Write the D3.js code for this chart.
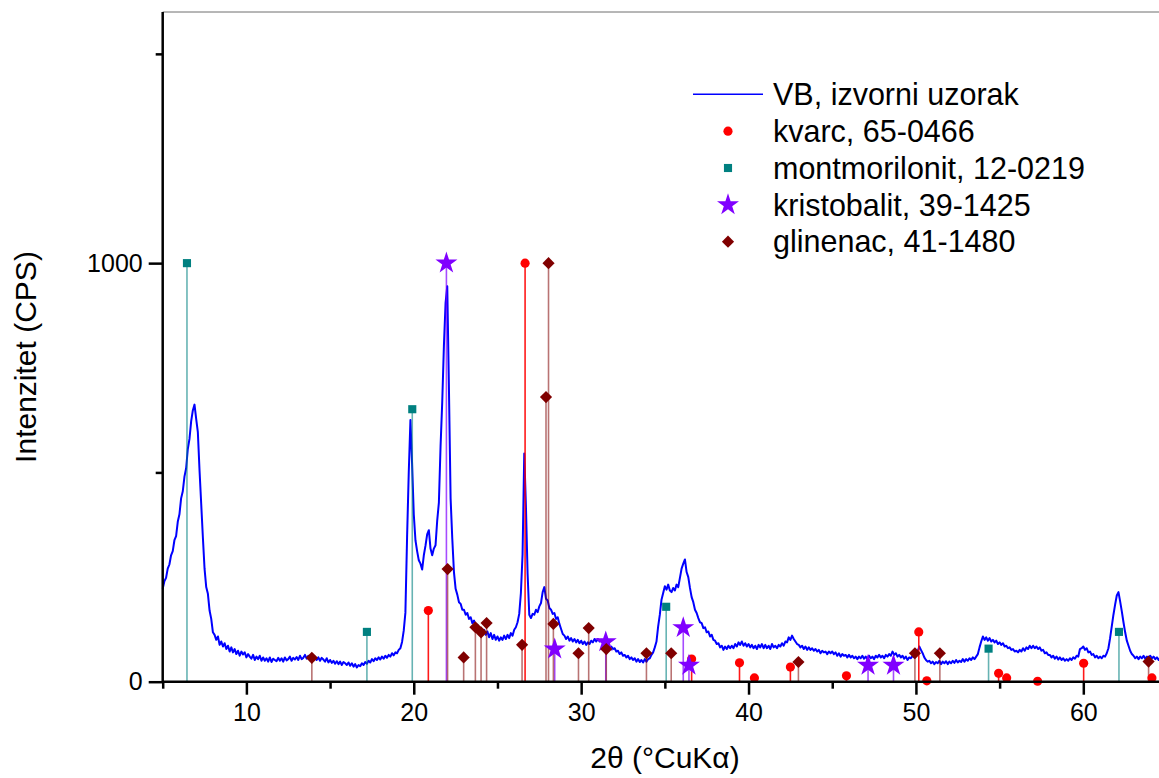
<!DOCTYPE html>
<html>
<head>
<meta charset="utf-8">
<script src="https://cdn.jsdelivr.net/npm/d3@7"></script>
<style>
  body { margin: 0; background: #fff; }
  text { font-family: "Liberation Sans", Arial, sans-serif; fill: #000; }
</style>
</head>
<body>
<svg id="chart" width="1159" height="778"></svg>
<script>
// measured scan, CPS, 2theta from 5 to 65 in 0.1 deg steps
const scanStart = 5, scanStep = 0.1;
const counts = [
  222, 240, 248, 270, 280, 302, 312, 338, 348, 382,
  400, 438, 455, 490, 510, 556, 580, 622, 648, 662,
  628, 596, 505, 425, 345, 270, 226, 210, 170, 150,
  118, 112, 100, 108, 88, 96, 84, 92, 78, 86,
  72, 82, 70, 78, 66, 74, 62, 72, 65, 70,
  58, 66, 60, 55, 64, 52, 60, 54, 62, 50,
  58, 50, 56, 48, 58, 47, 55, 52, 49, 57,
  50, 56, 48, 58, 51, 54, 60, 50, 57, 53,
  59, 52, 62, 54, 57, 64, 55, 62, 53, 61,
  56, 60, 52, 58, 50, 57, 53, 48, 56, 46,
  52, 45, 50, 43, 49, 42, 48, 40, 47, 44,
  40, 46, 38, 44, 36, 42, 34, 40, 37, 44,
  40, 47, 43, 50, 46, 54, 49, 56, 52, 58,
  53, 60, 55, 62, 57, 64, 60, 68, 63, 70,
  68, 76, 80, 95, 122, 165, 345, 500, 625, 520,
  400, 338, 312, 290, 282, 268, 302, 325, 352, 362,
  318, 302, 318, 326, 385, 428, 562, 668, 802, 905,
  945, 702, 438, 342, 262, 222, 208, 190, 186, 172,
  172, 160, 164, 150, 154, 140, 146, 132, 136, 124,
  128, 116, 124, 112, 120, 106, 116, 102, 112, 100,
  108, 98, 106, 100, 110, 102, 112, 104, 116, 110,
  124, 130, 142, 162, 212, 305, 545, 420, 258, 160,
  152, 162, 160, 172, 166, 180, 188, 214, 226, 198,
  194, 176, 172, 162, 164, 150, 154, 138, 126, 114,
  110, 102, 108, 98, 104, 96, 102, 94, 100, 92,
  98, 90, 96, 88, 94, 90, 98, 94, 102, 96,
  102, 96, 100, 92, 94, 86, 90, 82, 84, 78,
  80, 72, 74, 66, 70, 62, 64, 58, 62, 54,
  58, 52, 56, 48, 54, 47, 52, 46, 54, 48,
  54, 56, 64, 70, 82, 96, 132, 160, 196, 212,
  228, 220, 232, 218, 214, 224, 218, 232, 226, 248,
  270, 282, 292, 262, 250, 224, 202, 190, 172, 164,
  152, 142, 140, 128, 130, 118, 120, 108, 112, 100,
  98, 90, 92, 82, 86, 76, 84, 78, 86, 80,
  86, 80, 90, 84, 94, 88, 96, 86, 92, 84,
  90, 82, 88, 80, 86, 78, 88, 82, 90, 80,
  88, 80, 86, 78, 90, 82, 86, 80, 88, 84,
  92, 86, 96, 94, 106, 100, 110, 102, 96, 90,
  88, 82, 86, 78, 84, 76, 82, 76, 80, 74,
  78, 72, 76, 68, 74, 70, 72, 66, 72, 68,
  72, 66, 70, 62, 68, 60, 66, 62, 64, 58,
  64, 58, 62, 56, 60, 54, 60, 56, 62, 55,
  60, 54, 62, 56, 60, 54, 62, 58, 64, 58,
  62, 56, 64, 60, 66, 62, 72, 64, 68, 60,
  64, 58, 62, 55, 60, 52, 58, 56, 62, 58,
  66, 72, 84, 76, 68, 58, 52, 48, 50, 44,
  48, 42, 47, 44, 50, 42, 48, 44, 49, 42,
  48, 44, 50, 45, 52, 46, 50, 47, 54, 48,
  54, 50, 56, 52, 58, 54, 60, 66, 82, 96,
  108, 100, 106, 98, 104, 96, 100, 94, 98, 90,
  94, 88, 92, 84, 86, 80, 82, 76, 78, 72,
  74, 70, 76, 72, 80, 74, 82, 78, 86, 80,
  86, 80, 84, 78, 82, 74, 76, 68, 70, 64,
  64, 58, 62, 55, 60, 53, 58, 52, 56, 50,
  54, 50, 56, 52, 58, 55, 62, 60, 78, 80,
  84, 76, 80, 70, 72, 64, 66, 58, 62, 56,
  60, 56, 62, 60, 68, 80, 104, 132, 160, 184,
  206, 214, 192, 168, 142, 118, 98, 86, 74, 66,
  62, 56, 60, 54, 60, 56, 62, 55, 60, 58,
  62, 56, 60, 54, 58, 52, 58, 54, 57, 53,
  56
];

// reference patterns (2theta, relative intensity)
const kvarcTheta = [20.87, 26.65, 36.6, 39.46, 40.35, 42.5, 45.85, 50.17, 50.65, 54.94, 55.42, 57.27, 60.02, 64.1];
const kvarcI     = [170, 1000, 54, 45, 9, 35, 14, 119, 2, 20, 9, 1, 44, 9];
const montTheta  = [6.45, 17.2, 19.91, 35.08, 54.34, 62.13];
const montI      = [1000, 119, 651, 179, 79, 119];
const kristTheta = [21.95, 28.42, 31.47, 36.1, 36.44, 47.14, 48.66];
const kristI     = [1000, 78, 95, 129, 39, 39, 39];
const glinTheta  = [13.91, 22.02, 22.98, 23.68, 24.02, 24.35, 26.47, 27.9, 28.05, 28.34, 29.84, 30.45, 31.5, 33.9, 35.38, 42.98, 49.94, 51.43, 63.9];
const glinI      = [57, 269, 58, 130, 118, 140, 88, 680, 1000, 138, 68, 128, 78, 68, 68, 47, 68, 68, 48];

const seriesLabel = "VB, izvorni uzorak";
const phaseLabels = ["kvarc, 65-0466", "montmorilonit, 12-0219", "kristobalit, 39-1425", "glinenac, 41-1480"];

const xMajor = [10, 20, 30, 40, 50, 60];
const xMinor = [5, 15, 25, 35, 45, 55, 65];
const yMajor = [0, 1000];
const yMinor = [500, 1500];

const svg = d3.select("#chart");
const margin = {left: 162.7, top: 12};
const W = 1004.3, H = 669.7;

const x = d3.scaleLinear().domain([5, 65]).range([0, W]);
const y = d3.scaleLinear().domain([0, 1600]).range([H, 0]);

const g = svg.append("g").attr("transform", "translate(" + margin.left + "," + margin.top + ")");

const phases = [
  {label: phaseLabels[0], theta: kvarcTheta, val: kvarcI, color: "#ff0000", stemOp: 0.9, shape: "circle"},
  {label: phaseLabels[1], theta: montTheta,  val: montI,  color: "#008080", stemOp: 0.6, shape: "square"},
  {label: phaseLabels[2], theta: kristTheta, val: kristI, color: "#8000ff", stemOp: 0.7, shape: "star"},
  {label: phaseLabels[3], theta: glinTheta,  val: glinI,  color: "#800000", stemOp: 0.55, shape: "diamond"}
];

function symbolPath(shape){
  if(shape == "circle") return d3.symbol(d3.symbolCircle, 66)();
  if(shape == "square") return d3.symbol(d3.symbolSquare, 66)();
  if(shape == "star") return d3.symbol(d3.symbolStar, 150)();
  return d3.symbol(d3.symbolSquare, 74)();
}

// top frame
g.append("line").attr("x1", 0).attr("x2", W + 10).attr("y1", 0).attr("y2", 0)
  .attr("stroke", "#6e6e6e").attr("stroke-width", 1);

// scan
const scan = counts.map((c, i) => [scanStart + i * scanStep, c]);
g.append("path")
  .datum(scan)
  .attr("fill", "none")
  .attr("stroke", "#0000ff")
  .attr("stroke-width", 2)
  .attr("stroke-linejoin", "round")
  .attr("d", d3.line().x(d => x(d[0])).y(d => y(d[1])));

// stems first, markers on top
phases.forEach(p => {
  const pts = p.theta.map((t, i) => ({t: t, v: p.val[i]}));
  g.append("g").selectAll("line").data(pts).join("line")
    .attr("x1", d => x(d.t)).attr("x2", d => x(d.t))
    .attr("y1", y(0)).attr("y2", d => y(d.v))
    .attr("stroke", p.color).attr("stroke-opacity", p.stemOp).attr("stroke-width", 1.6);
});
phases.forEach(p => {
  const pts = p.theta.map((t, i) => ({t: t, v: p.val[i]}));
  g.append("g").selectAll("path").data(pts).join("path")
    .attr("d", symbolPath(p.shape))
    .attr("transform", d => "translate(" + x(d.t) + "," + y(d.v) + ")" + (p.shape == "diamond" ? " rotate(45)" : ""))
    .attr("fill", p.color);
});

// axes
function styleAxis(sel){
  sel.select(".domain").remove();
  sel.selectAll(".tick line").attr("stroke", "#000").attr("stroke-width", 2.5);
  sel.selectAll(".tick text").style("font-size", "25px").attr("fill", "#000");
}

g.append("g").attr("transform", "translate(0," + H + ")")
  .call(d3.axisBottom(x).tickValues(xMajor).tickSize(13).tickPadding(9).tickFormat(d3.format("d")))
  .call(styleAxis);
g.append("g").attr("transform", "translate(0," + H + ")")
  .call(d3.axisBottom(x).tickValues(xMinor).tickSize(7).tickFormat(""))
  .call(styleAxis);
g.append("g")
  .call(d3.axisLeft(y).tickValues(yMajor).tickSize(14).tickPadding(6).tickFormat(d3.format("d")))
  .call(styleAxis);
g.append("g")
  .call(d3.axisLeft(y).tickValues(yMinor).tickSize(7).tickFormat(""))
  .call(styleAxis);

g.append("line").attr("x1", 0).attr("x2", W + 10).attr("y1", H).attr("y2", H)
  .attr("stroke", "#000").attr("stroke-width", 2.5);
g.append("line").attr("x1", 0).attr("x2", 0).attr("y1", 0).attr("y2", H + 1.25)
  .attr("stroke", "#000").attr("stroke-width", 2.5);

// titles
svg.append("text")
  .attr("transform", "translate(36,357) rotate(-90)")
  .attr("text-anchor", "middle")
  .style("font-size", "30px")
  .text("Intenzitet (CPS)");
svg.append("text")
  .attr("x", 665).attr("y", 768)
  .attr("text-anchor", "middle")
  .style("font-size", "30px")
  .text("2θ (°CuKα)");

// legend
const lg = svg.append("g");
const rowY = [94.3, 131.2, 168, 204.9, 241.7];
lg.append("line").attr("x1", 693).attr("x2", 763).attr("y1", rowY[0]).attr("y2", rowY[0])
  .attr("stroke", "#0000ff").attr("stroke-width", 1.4);
lg.append("text").attr("x", 773).attr("y", rowY[0] + 10.7).style("font-size", "30.5px").text(seriesLabel);
phases.forEach((p, i) => {
  lg.append("path").attr("d", symbolPath(p.shape))
    .attr("transform", "translate(728," + rowY[i + 1] + ")" + (p.shape == "diamond" ? " rotate(45)" : ""))
    .attr("fill", p.color);
  lg.append("text").attr("x", 773).attr("y", rowY[i + 1] + 10.7).style("font-size", "30.5px").text(p.label);
});
</script>
</body>
</html>
